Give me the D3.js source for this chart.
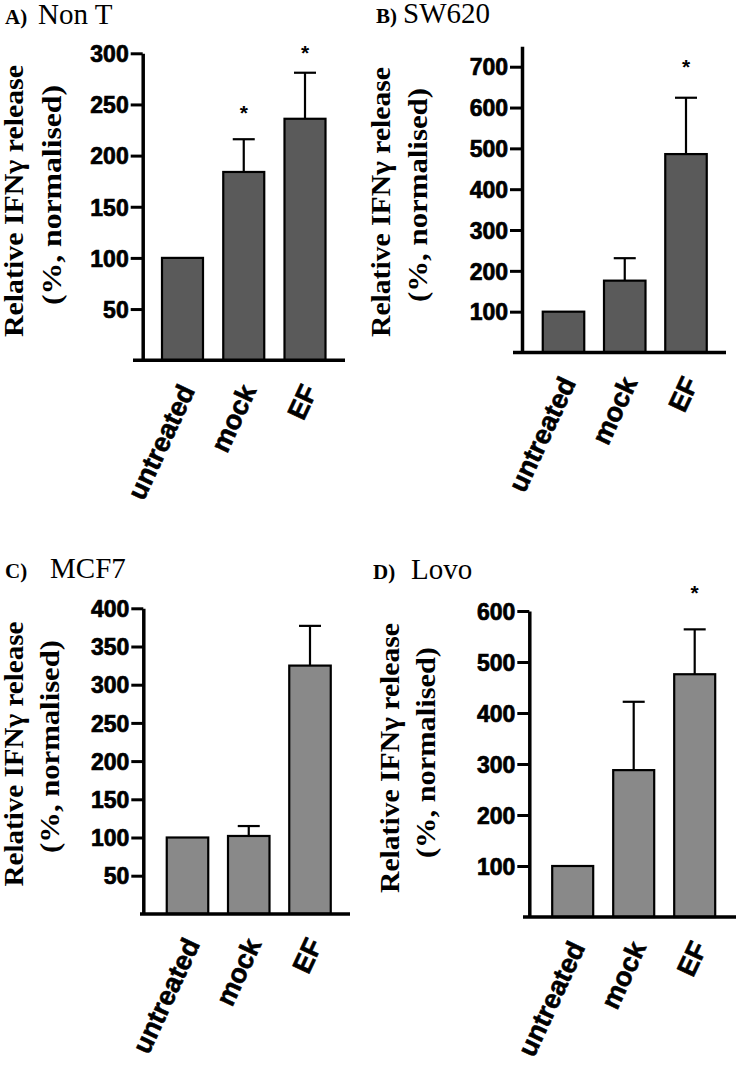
<!DOCTYPE html>
<html><head><meta charset="utf-8">
<script src="https://cdn.jsdelivr.net/npm/d3@7"></script>
<style>body{margin:0;background:#fff}svg{display:block}</style>
</head><body><svg id="c" width="736" height="1067"></svg>
<script>
// ---- data ----
const categories = ["untreated", "mock", "EF"];
const nonTValues = [100, 184, 236];
const nonTErrors = [0, 32, 45];
const nonTStars = [null, 247, 305];
const sw620Values = [100, 176, 486];
const sw620Errors = [0, 55, 138];
const sw620Stars = [null, null, 712];
const mcf7Values = [100, 102, 325];
const mcf7Errors = [0, 13, 52];
const mcf7Stars = [null, null, null];
const lovoValues = [100, 288, 476];
const lovoErrors = [0, 134, 88];
const lovoStars = [null, null, 645];
const nonTTicks = [50, 100, 150, 200, 250, 300];
const sw620Ticks = [100, 200, 300, 400, 500, 600, 700];
const mcf7Ticks = [50, 100, 150, 200, 250, 300, 350, 400];
const lovoTicks = [100, 200, 300, 400, 500, 600];
const yLabelLine1 = "Relative IFN\u03b3 release";
const yLabelLine2 = "(%, normalised)";

// ---- layout ----
const panels = [
  {letter:"A)", name:"Non T", lx:5, nx:38, ty:24, values:nonTValues, errors:nonTErrors, stars:nonTStars, ticks:nonTTicks,
   yMax:300, axisX:142.7, y0:360.2, yTop:53.3, xs:133, xe:345, c0:182.5, step:61.25, bw:41, fill:"#5a5a5a",
   l1:{x:23,y:201,len:272}, l2:{x:61,y:195,len:220}},
  {letter:"B)", name:"SW620", lx:376, nx:403, ty:23, values:sw620Values, errors:sw620Errors, stars:sw620Stars, ticks:sw620Ticks,
   yMax:750, axisX:522, y0:352.5, yTop:46.3, xs:513, xe:726, c0:563.5, step:61.25, bw:41.5, fill:"#5a5a5a",
   l1:{x:390,y:202,len:270}, l2:{x:427,y:195,len:214}},
  {letter:"C)", name:"MCF7", lx:5, nx:50, ty:578, values:mcf7Values, errors:mcf7Errors, stars:mcf7Stars, ticks:mcf7Ticks,
   yMax:400, axisX:143.3, y0:913.9, yTop:608.3, xs:140, xe:350, c0:187.5, step:61.25, bw:41.5, fill:"#898989",
   l1:{x:23,y:754,len:265}, l2:{x:59,y:746.5,len:213}},
  {letter:"D)", name:"Lovo", lx:373, nx:411, ty:579, values:lovoValues, errors:lovoErrors, stars:lovoStars, ticks:lovoTicks,
   yMax:600, axisX:529.3, y0:917, yTop:611, xs:523, xe:736, c0:572.7, step:61, bw:41, fill:"#898989",
   l1:{x:399,y:758,len:270}, l2:{x:435,y:752.5,len:211}}
];

const svg = d3.select("#c");
const sans = "'Liberation Sans', Arial, Helvetica, sans-serif";
const serif = "'Liberation Serif', 'Times New Roman', serif";

panels.forEach(p => {
  const g = svg.append("g");
  const y = d3.scaleLinear().domain([0, p.yMax]).range([p.y0, p.yTop]);
  const x = d3.scaleBand().domain(categories)
    .range([p.c0 - p.step/2, p.c0 + p.step*2.5])
    .paddingInner(1 - p.bw/p.step).paddingOuter((1 - p.bw/p.step)/2);

  // title
  g.append("text").attr("x", p.lx).attr("y", p.ty).attr("font-family", serif)
    .attr("font-weight", "bold").attr("font-size", 21).text(p.letter);
  g.append("text").attr("x", p.nx).attr("y", p.ty).attr("font-family", serif)
    .attr("font-size", 29).text(p.name);

  // y label
  [[p.l1, yLabelLine1], [p.l2, yLabelLine2]].forEach(([l, t]) => {
    g.append("text").attr("transform", `translate(${l.x},${l.y}) rotate(-90)`)
      .attr("text-anchor", "middle").attr("font-family", serif).attr("font-weight", "bold")
      .attr("font-size", 28).attr("textLength", l.len).attr("lengthAdjust", "spacingAndGlyphs").text(t);
  });

  // bars
  g.selectAll("rect.bar").data(categories).join("rect").attr("class", "bar")
    .attr("x", d => x(d)).attr("width", x.bandwidth())
    .attr("y", (d, i) => y(p.values[i])).attr("height", (d, i) => p.y0 - y(p.values[i]))
    .attr("fill", p.fill).attr("stroke", "#000").attr("stroke-width", 2.2);

  // error bars
  const capW = 22;
  categories.forEach((c, i) => {
    if (!p.errors[i]) return;
    const cx = x(c) + x.bandwidth()/2;
    g.append("line").attr("x1", cx).attr("x2", cx).attr("y1", y(p.values[i])).attr("y2", y(p.values[i] + p.errors[i]))
      .attr("stroke", "#000").attr("stroke-width", 2.2);
    g.append("line").attr("x1", cx - capW/2).attr("x2", cx + capW/2)
      .attr("y1", y(p.values[i] + p.errors[i])).attr("y2", y(p.values[i] + p.errors[i]))
      .attr("stroke", "#000").attr("stroke-width", 2.2);
    if (p.stars[i] != null) {
      g.append("text").attr("x", cx).attr("y", y(p.stars[i]) + 12).attr("text-anchor", "middle")
        .attr("font-family", sans).attr("font-weight", "bold").attr("font-size", 21).text("*");
    }
  });

  // y axis
  const ya = g.append("g").attr("transform", `translate(${p.axisX},0)`)
    .call(d3.axisLeft(y).tickValues(p.ticks).tickSize(12).tickSizeOuter(0).tickPadding(2));
  ya.select(".domain").attr("stroke", "#000").attr("stroke-width", 3.5);
  ya.selectAll(".tick line").attr("stroke", "#000").attr("stroke-width", 3);
  ya.selectAll(".tick text").attr("font-family", sans).attr("font-weight", "bold")
    .attr("font-size", 23).attr("fill", "#000").attr("stroke", "#000").attr("stroke-width", 0.7)
    .attr("dy", "0.36em");

  // x axis line
  g.append("line").attr("x1", p.xs).attr("x2", p.xe).attr("y1", p.y0).attr("y2", p.y0)
    .attr("stroke", "#000").attr("stroke-width", 3.5);

  // x labels
  g.selectAll("text.xl").data(categories).join("text").attr("class", "xl")
    .attr("transform", d => `translate(${x(d) + x.bandwidth()/2 + 13},${p.y0 + 30}) rotate(-65)`)
    .attr("text-anchor", "end").attr("font-family", sans).attr("font-weight", "bold")
    .attr("font-size", 27).attr("stroke", "#000").attr("stroke-width", 0.6).text(d => d);
});
</script>
</body></html>
